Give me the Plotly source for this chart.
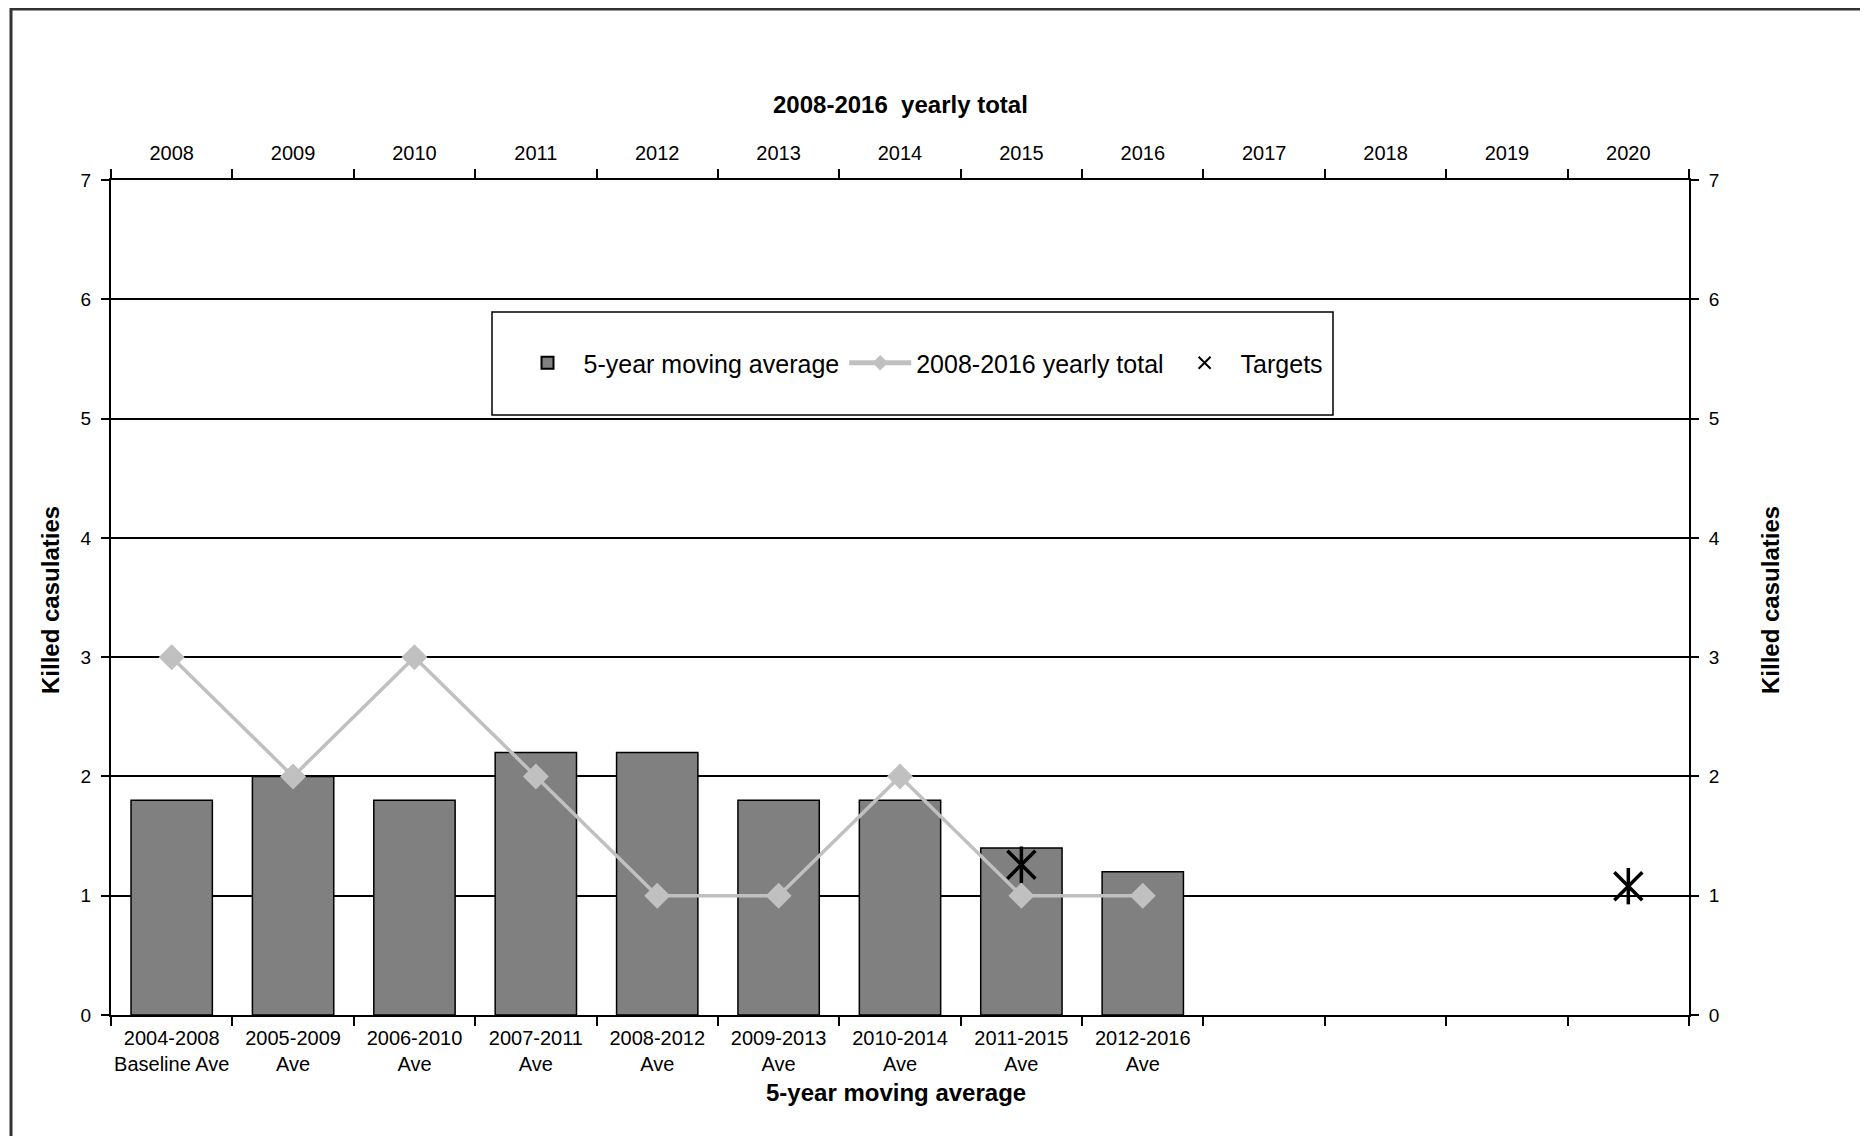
import plotly.graph_objects as go

# ---- data ----
years = ["2008", "2009", "2010", "2011", "2012", "2013", "2014", "2015", "2016",
         "2017", "2018", "2019", "2020"]
avg_labels = ["2004-2008<br>Baseline Ave", "2005-2009<br>Ave", "2006-2010<br>Ave",
              "2007-2011<br>Ave", "2008-2012<br>Ave", "2009-2013<br>Ave",
              "2010-2014<br>Ave", "2011-2015<br>Ave", "2012-2016<br>Ave"]
moving_avg = [1.8, 2.0, 1.8, 2.2, 2.2, 1.8, 1.8, 1.4, 1.2]
yearly_total = [3, 2, 3, 2, 1, 1, 2, 1, 1]
target_years = ["2015", "2020"]
target_values = [1.26, 1.08]

# ---- geometry helpers (screen pixel -> paper) ----
OFF = 8                      # page body margin
W, H = 1868 - OFF, 1136 - OFF
L = 111 - OFF
T = 180 - OFF
PW = 1689 - 111
PH = 1015 - 180
R = W - L - PW
B = H - T - PH


def px(x):
    return (x - OFF - L) / PW


def py(y):
    return (T + PH - (y - OFF)) / PH


xpos_avg = list(range(len(moving_avg)))
xpos_years = {y: i for i, y in enumerate(years)}
xpos_total = [xpos_years[y] for y in years[:len(yearly_total)]]
xpos_target = [xpos_years[y] for y in target_years]

FAM = "Liberation Sans, Arial, sans-serif"
TICK_FONT = dict(family=FAM, size=20, color="black")
TITLE_FONT = dict(family=FAM, size=24, color="black")

fig = go.Figure()
fig.add_trace(go.Bar(
    x=xpos_avg, y=moving_avg, name="5-year moving average",
    width=0.67, marker=dict(color="#808080", line=dict(color="black", width=1.5)),
    xaxis="x", yaxis="y"))
fig.add_trace(go.Scatter(
    x=xpos_total, y=yearly_total, name="2008-2016 yearly total",
    mode="lines+markers", line=dict(color="#C0C0C0", width=3.5),
    marker=dict(symbol="diamond", size=20, color="#C0C0C0"),
    xaxis="x2", yaxis="y2"))
fig.add_trace(go.Scatter(
    x=xpos_target, y=target_values, name="Targets", mode="markers",
    marker=dict(symbol="x-thin-open", size=28, color="black",
                line=dict(color="black", width=3.5)),
    xaxis="x2", yaxis="y2"))
fig.add_trace(go.Scatter(
    x=xpos_target, y=target_values, name="Targets", mode="markers", showlegend=False,
    marker=dict(symbol="line-ns-open", size=26, color="black",
                line=dict(color="black", width=3.5)),
    xaxis="x2", yaxis="y2"))

xr = [-0.5, len(years) - 0.5]
common_x = dict(range=xr, showgrid=False, zeroline=False, showline=True,
                linecolor="black", linewidth=2, ticks="", tickfont=TICK_FONT,
                minor=dict(tick0=-0.5, dtick=1, ticks="outside", ticklen=9,
                           tickcolor="black", tickwidth=1.5, showgrid=False))
common_y = dict(range=[0, 7], dtick=1, showline=True, linecolor="black", linewidth=2,
                ticks="outside", ticklen=8, tickcolor="black", tickwidth=1.5,
                zeroline=False, tickfont=dict(TICK_FONT, size=19), ticklabelstandoff=6)

fig.update_layout(
    width=W, height=H,
    margin=dict(l=L, r=R, t=T, b=B),
    paper_bgcolor="white", plot_bgcolor="white",
    xaxis=dict(common_x, tickvals=xpos_avg, ticktext=avg_labels, ticklabelstandoff=4),
    xaxis2=dict(common_x, overlaying="x", side="top", anchor="y2",
                tickvals=list(range(len(years))), ticktext=years, ticklabelstandoff=10),
    yaxis=dict(common_y, showgrid=True, gridcolor="black", gridwidth=1.5),
    yaxis2=dict(common_y, overlaying="y", side="right", anchor="x2", showgrid=False),
    showlegend=True,
    legend=dict(orientation="h", x=px(920), y=py(363), xanchor="center", yanchor="middle",
                bgcolor="rgba(0,0,0,0)", borderwidth=0, itemwidth=62,
                font=dict(family=FAM, size=25, color="black"),
                itemsizing="constant"),
    shapes=[
        dict(type="rect", xref="paper", yref="paper", x0=px(492), x1=px(1333),
             y0=py(415), y1=py(312), fillcolor="white", line=dict(color="black", width=1.5),
             layer="above"),
        dict(type="rect", xref="paper", yref="paper", x0=px(11), x1=px(1866),
             y0=py(1160), y1=py(9), fillcolor="rgba(0,0,0,0)",
             line=dict(color="#333333", width=3), layer="above"),
    ],
    annotations=[
        dict(text="<b>2008-2016  yearly total</b>", xref="paper", yref="paper",
             x=px(900), y=py(104), showarrow=False, font=TITLE_FONT,
             xanchor="center", yanchor="middle"),
        dict(text="<b>5-year moving average</b>", xref="paper", yref="paper",
             x=px(896), y=py(1092), showarrow=False, font=TITLE_FONT,
             xanchor="center", yanchor="middle"),
        dict(text="<b>Killed casulaties</b>", xref="paper", yref="paper",
             x=px(50), y=py(600), showarrow=False, font=TITLE_FONT, textangle=-90,
             xanchor="center", yanchor="middle"),
        dict(text="<b>Killed casulaties</b>", xref="paper", yref="paper",
             x=px(1770), y=py(600), showarrow=False, font=TITLE_FONT, textangle=-90,
             xanchor="center", yanchor="middle"),
    ],
)

fig.write_html("out.html")
